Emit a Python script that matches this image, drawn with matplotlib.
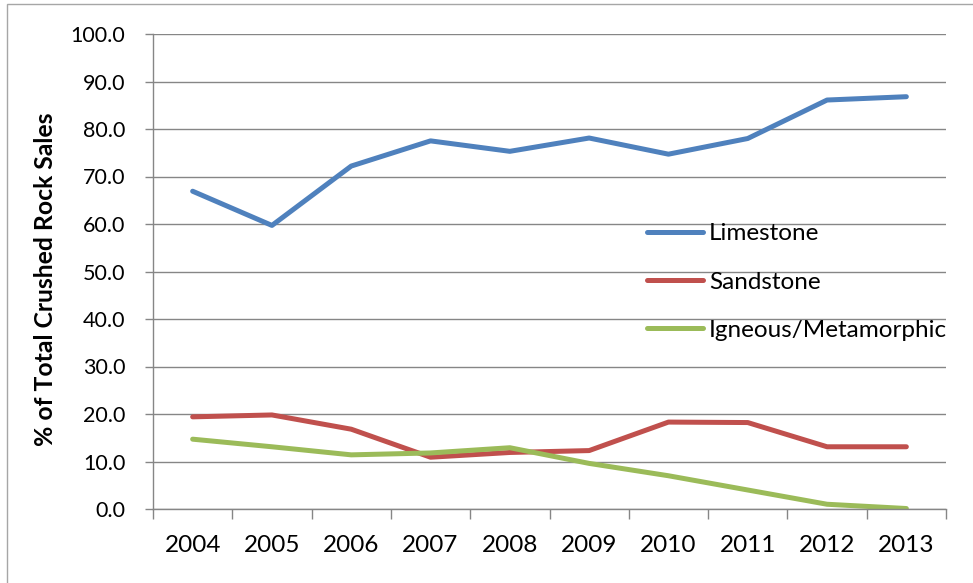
import matplotlib
matplotlib.use('Agg')
from matplotlib import pyplot as plt
from matplotlib.patches import Rectangle

plt.rcParams['font.family'] = ['Lato', 'DejaVu Sans']

years = ['2004', '2005', '2006', '2007', '2008', '2009', '2010', '2011', '2012', '2013']
limestone = [66.9, 59.7, 72.2, 77.5, 75.3, 78.1, 74.7, 78.0, 86.1, 86.8]
sandstone = [19.4, 19.8, 16.8, 10.9, 11.9, 12.3, 18.3, 18.2, 13.1, 13.1]
igneous = [14.7, 13.1, 11.4, 11.8, 12.9, 9.6, 7.0, 4.0, 1.0, 0.1]

W, H = 973, 583
fig = plt.figure(figsize=(W / 100., H / 100.), dpi=100)
fig.patches.append(Rectangle((7. / W, -0.1), 1.2, 1 - 4. / H + 0.1, transform=fig.transFigure,
                             fill=False, edgecolor='#a6a6a6', linewidth=1.0))

ax = fig.add_axes([153. / W, 1 - 509. / H, 793. / W, 475. / H])
x = range(len(years))
grey = '#868686'

ax.plot(x, limestone, color='#4f81bd', linewidth=3.6, label='Limestone', solid_capstyle='round')
ax.plot(x, sandstone, color='#c0504d', linewidth=3.6, label='Sandstone', solid_capstyle='round')
ax.plot(x, igneous, color='#9bbb59', linewidth=3.6, label='Igneous/Metamorphic', solid_capstyle='round')

ax.set_xlim(-0.5, len(years) - 0.5)
ax.set_ylim(0, 100)
ax.set_yticks([i * 10 for i in range(11)])
ax.set_yticklabels(['%.1f' % (i * 10) for i in range(11)], fontsize=15.5)
ax.set_xticks(list(x))
ax.set_xticklabels(years, fontsize=17.5)
ax.set_xticks([i - 0.5 for i in range(len(years) + 1)], minor=True)
ax.tick_params(axis='x', which='major', length=0, pad=18.5)
ax.tick_params(axis='x', which='minor', length=7, color=grey, width=1)
ax.tick_params(axis='y', length=6, color=grey, width=1, pad=14)

ax.grid(axis='y', color=grey, linewidth=1)
ax.set_axisbelow(True)
for s in ['top', 'right']:
    ax.spines[s].set_visible(False)
for s in ['left', 'bottom']:
    ax.spines[s].set_color(grey)
    ax.spines[s].set_linewidth(1)
    ax.spines[s].set_zorder(3)

fig.text(45.5 / W, 1 - 279. / H, '% of Total Crushed Rock Sales', fontsize=17.8, fontweight='bold',
         rotation=90, ha='center', va='center')

ax.legend(loc='upper left', bbox_to_anchor=(647. / W, 1 - 223.4 / H), bbox_transform=fig.transFigure,
          frameon=False, fontsize=17.5, handlelength=2.3, handletextpad=0.26,
          labelspacing=1.12, borderpad=0, borderaxespad=0)

fig.savefig('out.png', dpi=100)
